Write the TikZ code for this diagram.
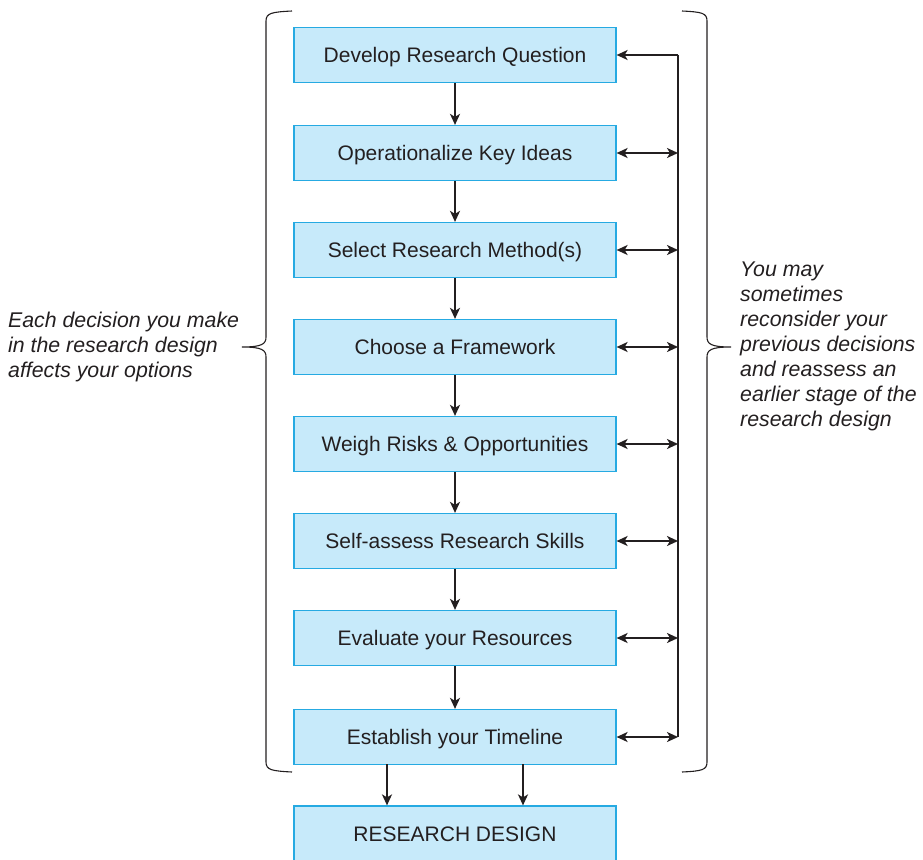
\documentclass[tikz,border=0pt]{standalone}
\usepackage{fontspec}
\setmainfont{Liberation Sans}
\usetikzlibrary{arrows.meta}
\definecolor{boxfill}{RGB}{199,234,250}
\definecolor{boxline}{RGB}{38,170,226}
\definecolor{ink}{RGB}{35,31,32}
\begin{document}
\begin{tikzpicture}[x=1pt,y=-1pt,
  stepbox/.style={draw=boxline,fill=boxfill,line width=1.2pt,minimum width=322pt,minimum height=55pt,inner sep=0pt,text height=15.5pt,text depth=0pt,text=ink,font=\fontsize{21}{25}\selectfont},
  conn/.style={draw=ink,line width=1.8pt},
  tip/.tip={Stealth[length=11pt,width=10pt,inset=3pt]},
  note/.style={align=left,text=ink,font=\fontsize{21.3}{25}\selectfont\itshape,inner sep=0pt},
  brace/.style={draw=ink,line width=1.1pt}]
\useasboundingbox (0,0) rectangle (923,859);
\node[stepbox] (b1) at (455,55) {Develop Research Question};
\node[stepbox] (b2) at (455,153) {Operationalize Key Ideas};
\node[stepbox] (b3) at (455,250) {Select Research Method(s)};
\node[stepbox] (b4) at (455,347) {Choose a Framework};
\node[stepbox] (b5) at (455,444) {Weigh Risks \& Opportunities};
\node[stepbox] (b6) at (455,541) {Self-assess Research Skills};
\node[stepbox] (b7) at (455,638) {Evaluate your Resources};
\node[stepbox] (b8) at (455,737) {Establish your Timeline};
\node[stepbox,minimum height=56pt] (rd) at (455,834) {RESEARCH DESIGN};
\foreach \a/\b in {b1/b2,b2/b3,b3/b4,b4/b5,b5/b6,b6/b7,b7/b8}
  \draw[conn,-tip] (\a) -- (\b);
\coordinate (l1) at (387,764);
\coordinate (l2) at (523,764);
\draw[conn,-tip] (l1) -- (rd.north -| l1);
\draw[conn,-tip] (l2) -- (rd.north -| l2);
\coordinate (r1) at (678,55);
\coordinate (r8) at (678,737);
\draw[conn] (r1) -- (r8);
\draw[conn,-tip] (r1) -- (b1.east);
\foreach \i in {2,...,8}
  \draw[conn,tip-tip] (b\i.east) -- (b\i.east -| r1);
% left brace
\draw[brace] (292,11) .. controls (272,12) and (266,13) .. (266,21) -- (266,337)
  .. controls (266,344) and (262,347) .. (242,347)
  .. controls (262,347) and (266,350) .. (266,357) -- (266,762)
  .. controls (266,770) and (272,771) .. (292,772);
% right brace
\draw[brace] (682,11) .. controls (702,12) and (707,13) .. (707,21) -- (707,337)
  .. controls (707,344) and (711,347) .. (731,347)
  .. controls (711,347) and (707,350) .. (707,357) -- (707,762)
  .. controls (707,770) and (702,771) .. (682,772);
\node[note,anchor=west] (lt) at (8,347) {Each decision you make\\in the research design\\affects your options};
\node[note,anchor=west] (rt) at (740,346) {You may\\sometimes\\reconsider your\\previous decisions\\and reassess an\\earlier stage of the\\research design};
\end{tikzpicture}
\end{document}
